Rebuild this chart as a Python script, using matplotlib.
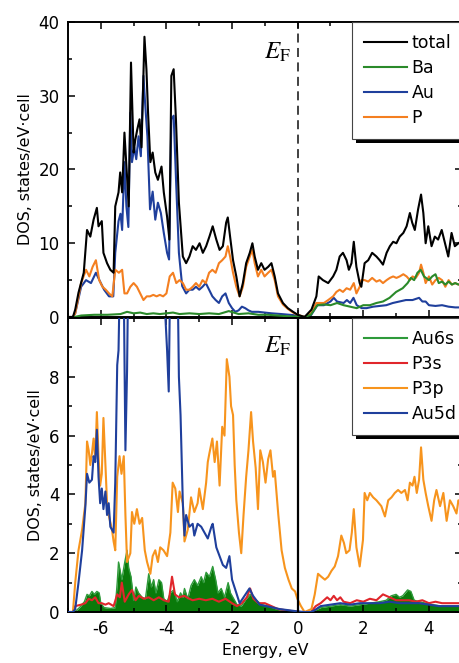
import numpy as np
import matplotlib.pyplot as plt
from matplotlib.patches import Rectangle
from matplotlib.transforms import IdentityTransform
from matplotlib.ticker import MultipleLocator

plt.rcParams['font.family'] = 'DejaVu Sans'
plt.rcParams['mathtext.fontset'] = 'stix'
plt.rcParams['axes.unicode_minus'] = False

# (energy in eV, DOS in states/eV*cell) for each curve

# upper panel: total and atom-projected DOS
total = [(-7.0, 0), (-6.85, 0), (-6.78, 1), (-6.68, 3.3), (-6.52, 6), (-6.42, 11.8),
         (-6.32, 10.9), (-6.22, 13.2), (-6.12, 14.8), (-6.07, 12.3), (-5.97, 13),
         (-5.92, 8.7), (-5.81, 7.3), (-5.71, 6.4), (-5.61, 6), (-5.56, 15), (-5.46, 16.9),
         (-5.41, 19.6), (-5.35, 16.9), (-5.28, 25), (-5.2, 19), (-5.15, 15), (-5.08, 34.5),
         (-5.0, 22.3), (-4.95, 24), (-4.89, 25.4), (-4.82, 26.8), (-4.76, 23), (-4.67, 38),
         (-4.61, 33.6), (-4.56, 27.7), (-4.49, 21), (-4.42, 22.3), (-4.34, 19.6),
         (-4.26, 18.6), (-4.15, 20.4), (-4.08, 16.9), (-3.98, 13.6), (-3.91, 10.5),
         (-3.85, 32.7), (-3.78, 33.6), (-3.71, 26.8), (-3.62, 15.5), (-3.5, 8.2),
         (-3.4, 7.3), (-3.3, 8.2), (-3.2, 9.6), (-3.1, 9.1), (-2.99, 10), (-2.89, 8.7),
         (-2.79, 9.6), (-2.69, 10.9), (-2.59, 12.3), (-2.48, 10.5), (-2.38, 9.1),
         (-2.28, 9.6), (-2.18, 12.8), (-2.13, 13.5), (-2.06, 10.9), (-1.97, 7.7),
         (-1.87, 5.5), (-1.77, 2.8), (-1.67, 4.6), (-1.57, 7.3), (-1.46, 8.7), (-1.38, 10),
         (-1.31, 8.2), (-1.21, 6.4), (-1.11, 7.3), (-1.01, 6.4), (-0.9, 6.8), (-0.8, 7.3),
         (-0.7, 5.5), (-0.6, 3.2), (-0.45, 1.9), (-0.3, 1.2), (-0.14, 0.7), (0.0, 0.3),
         (0.21, 0), (0.42, 1), (0.57, 2.8), (0.64, 5.5), (0.77, 5), (0.93, 4.6), (1.08, 5.5),
         (1.18, 6.4), (1.28, 8.2), (1.38, 8.7), (1.49, 7.7), (1.56, 6.4), (1.64, 7.3),
         (1.71, 10.2), (1.79, 6.8), (1.89, 4.6), (1.94, 4.1), (2.04, 7.3), (2.15, 7.7),
         (2.27, 8.7), (2.4, 8.2), (2.5, 7.7), (2.6, 7.1), (2.71, 8.7), (2.81, 9.6),
         (2.91, 10.2), (3.01, 10), (3.11, 10.9), (3.22, 11.4), (3.32, 12.3), (3.42, 14.1),
         (3.49, 12.8), (3.57, 11.8), (3.67, 14.6), (3.76, 16.6), (3.83, 14.1), (3.9, 10),
         (3.98, 12.3), (4.08, 9.6), (4.18, 10.9), (4.28, 10.5), (4.39, 11.8), (4.49, 10),
         (4.59, 8.2), (4.69, 11.4), (4.79, 9.6), (4.9, 10), (5.0, 10.3)]

ba = [(-7.0, 0), (-6.8, 0), (-6.6, 0.2), (-6.2, 0.3), (-5.8, 0.3), (-5.4, 0.4), (-5.2, 0.7),
      (-5.0, 0.5), (-4.8, 0.6), (-4.6, 0.4), (-4.4, 0.5), (-4.2, 0.4), (-4.0, 0.5),
      (-3.8, 0.6), (-3.6, 0.4), (-3.3, 0.5), (-3.0, 0.4), (-2.7, 0.5), (-2.4, 0.4),
      (-2.1, 0.8), (-1.8, 0.4), (-1.5, 0.5), (-1.2, 0.3), (-0.9, 0.3), (-0.6, 0.2),
      (-0.3, 0.1), (0.0, 0.05), (0.2, 0), (0.4, 0.3), (0.6, 1.6), (0.8, 1.7), (1.0, 1.6),
      (1.2, 1.9), (1.4, 1.6), (1.6, 1.4), (1.8, 1.2), (1.9, 1.4), (2.0, 1.6), (2.2, 1.6),
      (2.4, 1.9), (2.6, 2.1), (2.8, 2.6), (3.0, 3.4), (3.2, 3.9), (3.35, 4.6), (3.45, 5.3),
      (3.55, 5), (3.65, 6), (3.75, 6.4), (3.85, 5.5), (4.0, 5), (4.1, 5.5), (4.2, 5.8),
      (4.3, 4.6), (4.4, 4.8), (4.5, 4.4), (4.6, 4.8), (4.7, 4.4), (4.8, 4.6), (4.9, 4.4),
      (5.0, 4.5)]

au = [(-7.0, 0), (-6.85, 0), (-6.78, 0.5), (-6.6, 4.1), (-6.45, 5), (-6.3, 4.6), (-6.15, 6),
      (-6.0, 4.6), (-5.9, 3.7), (-5.75, 2.8), (-5.62, 2.8), (-5.56, 8.7), (-5.46, 13),
      (-5.4, 14), (-5.35, 11.8), (-5.28, 21), (-5.22, 15), (-5.16, 12.2), (-5.1, 27.7),
      (-5.05, 21), (-4.98, 23), (-4.92, 21.4), (-4.85, 24.5), (-4.78, 21.8), (-4.7, 32.7),
      (-4.65, 29), (-4.58, 24.5), (-4.5, 14.6), (-4.42, 17), (-4.34, 13.2), (-4.26, 15.5),
      (-4.17, 14.1), (-4.08, 11.4), (-3.98, 8.7), (-3.92, 7.8), (-3.85, 26.8),
      (-3.78, 27.3), (-3.7, 17.7), (-3.62, 8.7), (-3.52, 4.2), (-3.4, 3.2), (-3.3, 3.7),
      (-3.2, 3.7), (-3.1, 4.1), (-3.0, 3.7), (-2.9, 4.1), (-2.8, 4.6), (-2.7, 3.7),
      (-2.6, 2.8), (-2.5, 2.3), (-2.4, 1.9), (-2.3, 2.8), (-2.2, 3.2), (-2.1, 1.9),
      (-2.0, 1.2), (-1.9, 0.7), (-1.8, 0.9), (-1.7, 1.4), (-1.6, 1.2), (-1.5, 0.9),
      (-1.4, 0.7), (-1.2, 0.7), (-1.0, 0.6), (-0.8, 0.5), (-0.5, 0.4), (0.0, 0.2), (0.2, 0),
      (0.4, 0.2), (0.6, 1.6), (0.8, 1.6), (1.0, 2.1), (1.1, 2.6), (1.2, 2.1), (1.4, 1.9),
      (1.5, 2.3), (1.6, 1.9), (1.7, 2.6), (1.8, 1.6), (1.95, 1.2), (2.1, 1.2), (2.3, 1.4),
      (2.5, 1.5), (2.7, 1.6), (2.9, 1.9), (3.1, 2.1), (3.3, 2.3), (3.5, 2.3), (3.7, 2.6),
      (3.8, 2.1), (3.9, 2.1), (4.0, 1.6), (4.2, 1.5), (4.4, 1.6), (4.6, 1.4), (4.8, 1.3),
      (5.0, 1.3)]

p = [(-7.0, 0), (-6.85, 0), (-6.78, 0.5), (-6.6, 4.6), (-6.45, 6.4), (-6.35, 5.5),
     (-6.25, 6.8), (-6.15, 7.7), (-6.05, 5), (-5.95, 4.1), (-5.85, 3.7), (-5.75, 3.2),
     (-5.65, 2.8), (-5.56, 6.4), (-5.45, 6), (-5.35, 6.4), (-5.28, 3.2), (-5.2, 3.2),
     (-5.1, 4.1), (-5.0, 4.6), (-4.9, 4.1), (-4.8, 3.2), (-4.7, 2.3), (-4.6, 2.8),
     (-4.5, 2.8), (-4.4, 3), (-4.3, 2.8), (-4.2, 3), (-4.1, 2.8), (-4.0, 3.2), (-3.9, 5.5),
     (-3.8, 6), (-3.7, 4.6), (-3.6, 5), (-3.5, 4.6), (-3.4, 3.7), (-3.3, 3.7), (-3.2, 4.1),
     (-3.1, 4.6), (-3.0, 4.1), (-2.9, 5), (-2.8, 4.6), (-2.7, 6), (-2.6, 6.4), (-2.5, 6),
     (-2.4, 7.3), (-2.3, 7.7), (-2.2, 8.2), (-2.13, 9.6), (-2.06, 8.2), (-1.97, 6),
     (-1.87, 4.1), (-1.77, 2.8), (-1.67, 4.1), (-1.57, 6.8), (-1.46, 8.2), (-1.38, 9.1),
     (-1.31, 7.3), (-1.21, 5.5), (-1.11, 6.4), (-1.01, 5.5), (-0.9, 6), (-0.8, 6.4),
     (-0.7, 5), (-0.6, 2.8), (-0.45, 1.7), (-0.3, 1.1), (-0.14, 0.6), (0.0, 0.3), (0.21, 0),
     (0.4, 0.5), (0.57, 1.9), (0.7, 1.9), (0.8, 1.9), (0.93, 2.3), (1.08, 2.8), (1.18, 3.4),
     (1.28, 3.7), (1.38, 3.4), (1.49, 3.9), (1.6, 3.7), (1.71, 4.6), (1.79, 3.2),
     (1.89, 4.1), (1.94, 5), (2.04, 5), (2.15, 4.8), (2.27, 5.3), (2.4, 4.8), (2.5, 5),
     (2.6, 4.6), (2.71, 5), (2.81, 5.3), (2.91, 5.5), (3.01, 5.3), (3.11, 5.5), (3.22, 5.8),
     (3.32, 5.5), (3.42, 5), (3.5, 5.5), (3.6, 5.3), (3.7, 6), (3.76, 7.1), (3.83, 6),
     (3.9, 4.6), (4.0, 5.5), (4.1, 4.4), (4.2, 5), (4.3, 5.3), (4.4, 5), (4.5, 4.1),
     (4.6, 5), (4.7, 4.4), (4.8, 4.6), (4.9, 4.4), (5.0, 4.5)]

# lower panel: orbital-projected DOS
au6s = [(-7.0, 0), (-6.8, 0), (-6.65, 0.15), (-6.5, 0.35), (-6.42, 0.6), (-6.35, 0.55),
        (-6.27, 0.7), (-6.2, 0.6), (-6.12, 0.7), (-6.05, 0.65), (-6.0, 0.3), (-5.9, 0.15),
        (-5.7, 0.12), (-5.56, 0.15), (-5.5, 1.0), (-5.46, 1.7), (-5.36, 1.1), (-5.27, 1.7),
        (-5.2, 2.1), (-5.15, 1.5), (-5.08, 1.2), (-5.0, 0.4), (-4.93, 0.85), (-4.85, 0.65),
        (-4.74, 0.5), (-4.64, 0.45), (-4.54, 1.3), (-4.46, 0.85), (-4.39, 1.1),
        (-4.32, 0.65), (-4.23, 1.1), (-4.15, 1.0), (-4.08, 0.45), (-3.98, 0.35),
        (-3.88, 0.65), (-3.78, 0.75), (-3.67, 0.35), (-3.57, 0.65), (-3.5, 0.5),
        (-3.45, 0.8), (-3.35, 0.45), (-3.25, 0.9), (-3.15, 1.1), (-3.05, 0.9),
        (-2.94, 1.2), (-2.87, 1.0), (-2.79, 1.35), (-2.69, 1.2), (-2.59, 1.55),
        (-2.5, 1.1), (-2.43, 0.65), (-2.33, 0.8), (-2.23, 0.5), (-2.12, 1.0),
        (-2.05, 0.65), (-1.95, 0.45), (-1.85, 0.25), (-1.72, 0.2), (-1.57, 0.45),
        (-1.45, 0.6), (-1.31, 0.45), (-1.1, 0.25), (-0.9, 0.2), (-0.65, 0.1),
        (-0.33, 0.02), (0.0, 0), (0.4, 0), (0.5, 0.05), (0.7, 0.15), (1.0, 0.2),
        (1.3, 0.25), (1.6, 0.2), (1.9, 0.25), (2.2, 0.3), (2.5, 0.35), (2.7, 0.4),
        (2.85, 0.55), (3.0, 0.6), (3.1, 0.5), (3.2, 0.55), (3.35, 0.75), (3.45, 0.7),
        (3.55, 0.4), (3.7, 0.35), (3.9, 0.3), (4.1, 0.25), (4.4, 0.2), (4.7, 0.2), (5.0, 0.2)]

p3s = [(-7.0, 0), (-6.85, 0), (-6.78, 0.2), (-6.6, 0.25), (-6.47, 0.3), (-6.37, 0.45),
       (-6.27, 0.4), (-6.17, 0.5), (-6.07, 0.3), (-5.97, 0.3), (-5.86, 0.25), (-5.76, 0.3),
       (-5.61, 0.2), (-5.5, 0.6), (-5.42, 0.5), (-5.36, 1.0), (-5.27, 0.35), (-5.15, 0.6),
       (-5.05, 0.75), (-4.94, 0.4), (-4.84, 0.55), (-4.69, 0.45), (-4.54, 0.5),
       (-4.39, 0.4), (-4.23, 0.5), (-4.08, 0.4), (-3.93, 0.35), (-3.83, 1.2), (-3.74, 0.6),
       (-3.62, 0.5), (-3.46, 0.55), (-3.3, 0.45), (-3.2, 0.4), (-3.0, 0.45), (-2.8, 0.4),
       (-2.6, 0.45), (-2.4, 0.35), (-2.2, 0.45), (-2.0, 0.3), (-1.85, 0.2), (-1.7, 0.3),
       (-1.55, 0.5), (-1.45, 0.8), (-1.35, 0.45), (-1.2, 0.3), (-1.0, 0.3), (-0.8, 0.2),
       (-0.6, 0.1), (-0.3, 0.05), (0.0, 0), (0.4, 0), (0.55, 0.2), (0.7, 0.3), (0.9, 0.5),
       (1.0, 0.4), (1.1, 0.55), (1.2, 0.4), (1.3, 0.5), (1.4, 0.35), (1.6, 0.3), (1.8, 0.4),
       (2.0, 0.35), (2.2, 0.45), (2.4, 0.4), (2.6, 0.6), (2.8, 0.5), (3.0, 0.4), (3.2, 0.4),
       (3.4, 0.4), (3.6, 0.35), (3.8, 0.4), (4.0, 0.3), (4.2, 0.35), (4.4, 0.3), (4.6, 0.3),
       (4.8, 0.3), (5.0, 0.3)]

p3p = [(-7.0, 0), (-6.85, 0), (-6.78, 1.0), (-6.68, 2.1), (-6.57, 2.8), (-6.47, 3.7),
       (-6.42, 5.8), (-6.37, 5.5), (-6.32, 5.0), (-6.27, 5.4), (-6.22, 5.9), (-6.17, 5.2),
       (-6.12, 6.8), (-6.07, 5.3), (-6.02, 4.3), (-5.97, 4.7), (-5.92, 6.6), (-5.81, 3.7),
       (-5.76, 3.3), (-5.66, 2.8), (-5.61, 2.4), (-5.56, 2.1), (-5.5, 4.6), (-5.43, 5.3),
       (-5.37, 4.7), (-5.3, 5.3), (-5.25, 3.3), (-5.2, 1.7), (-5.1, 2.0), (-5.05, 3.4),
       (-4.98, 3.0), (-4.9, 3.5), (-4.82, 3.0), (-4.74, 3.2), (-4.66, 2.1), (-4.59, 1.7),
       (-4.49, 1.3), (-4.42, 1.9), (-4.34, 2.1), (-4.26, 1.7), (-4.19, 2.2), (-4.09, 2.1),
       (-3.98, 1.9), (-3.88, 2.7), (-3.81, 4.4), (-3.73, 4.2), (-3.65, 3.4), (-3.6, 4.1),
       (-3.5, 3.7), (-3.45, 2.4), (-3.35, 2.8), (-3.25, 3.9), (-3.15, 3.4), (-3.05, 3.7),
       (-3.0, 4.2), (-2.89, 3.5), (-2.79, 4.4), (-2.74, 5.1), (-2.69, 5.4), (-2.6, 5.9),
       (-2.53, 5.1), (-2.46, 5.8), (-2.38, 4.3), (-2.3, 6.3), (-2.23, 6.0), (-2.16, 8.6),
       (-2.08, 8.0), (-2.03, 7.0), (-1.97, 6.7), (-1.92, 5.0), (-1.87, 3.8), (-1.79, 2.7),
       (-1.72, 2.0), (-1.65, 3.3), (-1.57, 4.6), (-1.5, 5.5), (-1.42, 6.8), (-1.36, 5.8),
       (-1.28, 4.9), (-1.21, 3.5), (-1.14, 5.5), (-1.06, 5.1), (-0.98, 4.4), (-0.9, 5.2),
       (-0.83, 5.5), (-0.75, 4.6), (-0.7, 4.8), (-0.59, 3.3), (-0.49, 2.1), (-0.39, 1.5),
       (-0.28, 1.1), (-0.18, 0.8), (-0.08, 0.7), (-0.01, 0.45), (0.1, 0.2), (0.21, 0),
       (0.42, 0.1), (0.52, 0.6), (0.62, 1.3), (0.72, 1.2), (0.83, 1.1), (0.93, 1.2),
       (1.03, 1.4), (1.13, 1.55), (1.23, 1.9), (1.33, 2.6), (1.41, 2.35), (1.48, 2.0),
       (1.58, 2.1), (1.65, 2.7), (1.71, 3.5), (1.79, 2.2), (1.89, 1.55), (1.99, 2.45),
       (2.04, 4.05), (2.12, 3.8), (2.2, 4.05), (2.3, 3.9), (2.4, 3.8), (2.55, 3.6),
       (2.66, 3.25), (2.76, 3.8), (2.86, 3.9), (2.96, 4.05), (3.06, 4.15), (3.16, 4.05),
       (3.27, 4.15), (3.35, 3.8), (3.42, 4.4), (3.5, 4.3), (3.56, 4.6), (3.63, 4.05),
       (3.7, 4.5), (3.76, 5.6), (3.83, 4.5), (3.9, 4.05), (3.98, 3.6), (4.08, 3.1),
       (4.16, 3.8), (4.23, 4.15), (4.34, 3.6), (4.44, 4.05), (4.54, 3.1), (4.64, 3.8),
       (4.74, 3.6), (4.84, 3.35), (4.9, 3.8), (5.0, 3.6)]

au5d = [(-7.0, 0), (-6.85, 0), (-6.78, 0.1), (-6.68, 1.0), (-6.57, 2.1), (-6.47, 3.6),
        (-6.42, 4.7), (-6.35, 4.4), (-6.27, 4.5), (-6.22, 5.3), (-6.17, 5.1), (-6.12, 6.2),
        (-6.07, 4.6), (-6.02, 3.7), (-5.97, 4.2), (-5.92, 3.5), (-5.86, 4.1), (-5.81, 3.3),
        (-5.76, 3.7), (-5.71, 2.9), (-5.61, 2.7), (-5.56, 4.4), (-5.5, 8.4), (-5.46, 8.9),
        (-5.41, 12), (-5.35, 14), (-5.3, 11), (-5.25, 5.5), (-5.2, 8.2), (-5.16, 12),
        (-5.1, 22), (-5.0, 18), (-4.9, 20), (-4.8, 18), (-4.7, 28), (-4.6, 22), (-4.5, 12),
        (-4.4, 14), (-4.3, 11), (-4.2, 12), (-4.1, 10.5), (-4.03, 10), (-3.98, 8.9),
        (-3.93, 7.5), (-3.88, 12), (-3.8, 24), (-3.7, 15), (-3.62, 8), (-3.57, 6.7),
        (-3.5, 3.7), (-3.45, 2.6), (-3.4, 3.3), (-3.3, 2.9), (-3.2, 3.0), (-3.15, 2.6),
        (-3.05, 3.0), (-2.94, 2.9), (-2.84, 2.7), (-2.74, 2.5), (-2.63, 2.9), (-2.59, 3.0),
        (-2.48, 2.2), (-2.38, 1.9), (-2.28, 1.6), (-2.18, 1.5), (-2.08, 1.9), (-2.0, 1.1),
        (-1.87, 0.65), (-1.77, 0.3), (-1.62, 0.55), (-1.47, 0.8), (-1.36, 0.55),
        (-1.16, 0.25), (-0.96, 0.2), (-0.75, 0.15), (-0.55, 0.1), (-0.2, 0.05), (0.0, 0.02),
        (0.2, 0), (0.4, 0), (0.5, 0.05), (0.7, 0.2), (1.0, 0.25), (1.3, 0.3), (1.6, 0.25),
        (1.9, 0.3), (2.2, 0.3), (2.5, 0.3), (2.8, 0.35), (3.1, 0.3), (3.4, 0.3), (3.7, 0.3),
        (4.0, 0.25), (4.3, 0.2), (4.6, 0.2), (5.0, 0.2)]


def xy(pairs):
    arr = np.array(pairs, dtype=float)
    return arr[:, 0], arr[:, 1]


def style_axis(ax, ymax, ymajor, yminor):
    ax.set_xlim(-7, 5)
    ax.set_ylim(0, ymax)
    ax.xaxis.set_major_locator(MultipleLocator(2))
    ax.xaxis.set_minor_locator(MultipleLocator(1))
    ax.yaxis.set_major_locator(MultipleLocator(ymajor))
    ax.yaxis.set_minor_locator(MultipleLocator(yminor))
    ax.tick_params(which='both', direction='in', top=True, right=True,
                   width=1.1, labelsize=12, pad=6)
    ax.tick_params(which='major', length=5)
    ax.tick_params(which='minor', length=3)
    for s in ax.spines.values():
        s.set_linewidth(1.4)
    ax.set_ylabel('DOS, states/eV·cell', fontsize=11.4, labelpad=4)


def add_legend(ax, handles, labels):
    leg = ax.legend(handles, labels, loc='upper left', bbox_to_anchor=(0.7205, 1.0),
                    borderaxespad=0, fontsize=12.5, handlelength=2.5,
                    handletextpad=0.25, borderpad=0.7, labelspacing=0.4,
                    fancybox=False, framealpha=1, edgecolor='#444444')
    leg.get_frame().set_linewidth(0.8)
    return leg


def add_shadow(ax, leg, off=4):
    bb = leg.get_window_extent()
    shade = Rectangle((bb.x0 + off, bb.y0 - off), bb.width, bb.height,
                      transform=IdentityTransform(), facecolor='black',
                      edgecolor='none', zorder=4.9)
    ax.add_artist(shade)


fig = plt.figure(figsize=(4.59, 6.63), dpi=100)
ax1 = fig.add_axes([0.14815, 0.52187, 0.8578, 0.44495])
ax2 = fig.add_axes([0.14815, 0.07692, 0.8578, 0.44344])

lw = 1.5
blue = '#1f3f9c'
orange = '#f47f20'
green = '#2a8a2a'

# top panel
l_au, = ax1.plot(*xy(au), color=blue, lw=lw, zorder=2)
l_p, = ax1.plot(*xy(p), color=orange, lw=lw, zorder=3)
l_ba, = ax1.plot(*xy(ba), color=green, lw=lw, zorder=4)
l_tot, = ax1.plot(*xy(total), color='black', lw=lw, zorder=4.5)
ax1.axvline(0, color='#333333', lw=1.3, ls=(0, (5, 3)), zorder=1)
ax1.text(-0.2, 35.0, r'$E_{\mathrm{F}}$', fontsize=18, ha='right', va='baseline')
style_axis(ax1, 40, 10, 5)
ax1.tick_params(labelbottom=False)
leg1 = add_legend(ax1, [l_tot, l_ba, l_au, l_p], ['total', 'Ba', 'Au', 'P'])

# bottom panel
e6s, d6s = xy(au6s)
ax2.fill_between(e6s, 0, d6s, color='#0a7a0a', lw=0, zorder=1)
l_6s, = ax2.plot(e6s, d6s, color='#2e9a3a', lw=1.0, zorder=1.5)
l_3s, = ax2.plot(*xy(p3s), color='#e0262b', lw=lw, zorder=2)
l_3p, = ax2.plot(*xy(p3p), color='#f7941d', lw=lw, zorder=3)
l_5d, = ax2.plot(*xy(au5d), color=blue, lw=lw, zorder=3.5)
ax2.axvline(0, color='black', lw=1.6, zorder=4)
ax2.text(-0.2, 8.81, r'$E_{\mathrm{F}}$', fontsize=18, ha='right', va='baseline')
style_axis(ax2, 10, 2, 1)
ax2.set_yticks([0, 2, 4, 6, 8])
ax2.set_xlabel('Energy, eV', fontsize=11.4, labelpad=3)
leg2 = add_legend(ax2, [l_6s, l_3s, l_3p, l_5d], ['Au6s', 'P3s', 'P3p', 'Au5d'])
leg2.get_lines()[0].set_linewidth(lw)

fig.canvas.draw()
add_shadow(ax1, leg1)
add_shadow(ax2, leg2)

fig.savefig('out.png', dpi=100)
